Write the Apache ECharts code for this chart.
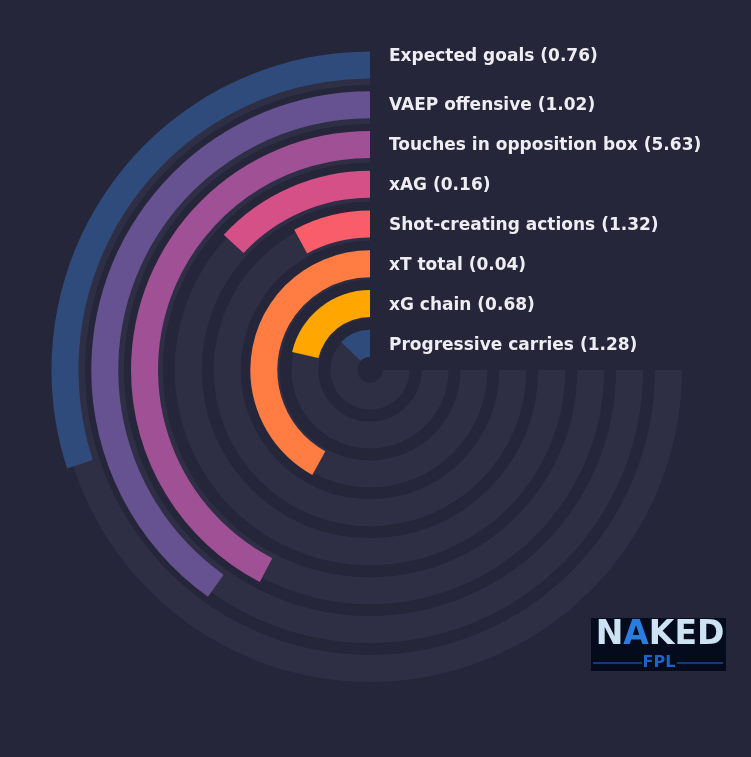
<!DOCTYPE html>
<html>
<head>
<meta charset="utf-8">
<script src="https://cdn.jsdelivr.net/npm/echarts@6/dist/echarts.min.js"></script>
<style>
html,body{margin:0;padding:0;background:#25263a;}
#chart{width:751px;height:757px;}
</style>
</head>
<body>
<div id="chart"></div>
<script>
// Metrics, from innermost ring to outermost ring
const metrics = ['Progressive carries', 'xG chain', 'xT total', 'Shot-creating actions', 'xAG', 'Touches in opposition box', 'VAEP offensive', 'Expected goals'];
const metricValues = ['1.28', '0.68', '0.04', '1.32', '0.16', '5.63', '1.02', '0.76'];
// Share of the 270-degree track filled by each bar
const fillShares = [0.17, 0.285, 0.56, 0.105, 0.175, 0.565, 0.535, 0.40];
const trackFull = [1, 1, 1, 1, 1, 1, 1, 1];
const barColors = ['#2f4b7c', '#ffa600', '#ff7c43', '#f95d6a', '#d45087', '#a05195', '#665191', '#2f4b7c'];

// Layout (not data)
const labelY = [346, 306, 266, 226, 186, 146, 106, 57];
const BG = '#25263a';
const TRACK = '#2e2f44';

const chart = echarts.init(document.getElementById('chart'));

const labelGraphics = metrics.map((m, i) => ({
  type: 'text',
  x: 389,
  y: labelY[i],
  style: {
    text: m + ' (' + metricValues[i] + ')',
    fill: '#eeeef2',
    font: 'bold 17px "DejaVu Sans"',
    verticalAlign: 'middle'
  }
}));

const logo = {
  type: 'group',
  x: 591,
  y: 618,
  children: [
    { type: 'rect', shape: { x: 0, y: 0, width: 135, height: 53 }, style: { fill: '#030b1c' } },
    { type: 'text', x: 69, y: 17, style: {
        text: '{a|N}{b|A}{a|KED}', align: 'center', verticalAlign: 'middle',
        rich: {
          a: { fill: '#cde3f3', font: 'bold 33px "DejaVu Sans"' },
          b: { fill: '#2a7de0', font: 'bold 33px "DejaVu Sans"' }
        }
    } },
    { type: 'line', shape: { x1: 2, y1: 45, x2: 51, y2: 45 }, style: { stroke: '#1b6fd8', lineWidth: 1 } },
    { type: 'line', shape: { x1: 86, y1: 45, x2: 132, y2: 45 }, style: { stroke: '#1b6fd8', lineWidth: 1 } },
    { type: 'text', x: 68, y: 45, style: { text: 'FPL', align: 'center', verticalAlign: 'middle', fill: '#1f62c6', font: 'bold 16px "DejaVu Sans"' } }
  ]
};

const hiddenAngle = {
  type: 'value', min: 0, max: 4 / 3, startAngle: 90, clockwise: false,
  axisLine: { show: false }, axisTick: { show: false }, axisLabel: { show: false }, splitLine: { show: false }
};
const hiddenRadius = {
  type: 'category', data: metrics,
  axisLine: { show: false }, axisTick: { show: false }, axisLabel: { show: false }, splitLine: { show: false }
};

chart.setOption({
  backgroundColor: BG,
  animation: false,
  polar: [
    { center: [370, 370], radius: [6.7, 317.9] },
    { center: [370, 370], radius: [6.8, 324.9] }
  ],
  angleAxis: [Object.assign({ polarIndex: 0 }, hiddenAngle), Object.assign({ polarIndex: 1 }, hiddenAngle)],
  radiusAxis: [Object.assign({ polarIndex: 0 }, hiddenRadius), Object.assign({ polarIndex: 1 }, hiddenRadius)],
  series: [
    {
      type: 'bar', coordinateSystem: 'polar', polarIndex: 0, name: 'track', data: trackFull,
      barWidth: 27, silent: true,
      itemStyle: { color: TRACK }
    },
    {
      type: 'bar', coordinateSystem: 'polar', polarIndex: 1, name: 'value',
      data: fillShares.map((v, i) => ({ value: v, itemStyle: { color: barColors[i] } })),
      barWidth: 27
    }
  ],
  graphic: labelGraphics.concat([logo])
});
</script>
</body>
</html>
